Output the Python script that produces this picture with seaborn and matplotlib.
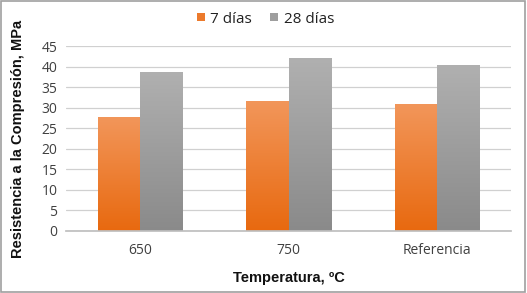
import numpy as np
import pandas as pd
import matplotlib
matplotlib.use("Agg")
import matplotlib.pyplot as plt
import seaborn as sns
from matplotlib.colors import LinearSegmentedColormap
from matplotlib.patches import Rectangle
from matplotlib.lines import Line2D

categories = ["650", "750", "Referencia"]
series_names = ["7 días", "28 días"]
values_7 = [27.7, 31.5, 30.8]
values_28 = [38.7, 42.1, 40.3]
yticks = [0, 5, 10, 15, 20, 25, 30, 35, 40, 45]

df = pd.DataFrame({
    "Temperatura": categories * 2,
    "Serie": [series_names[0]] * 3 + [series_names[1]] * 3,
    "Valor": values_7 + values_28,
})

sns.set_theme(style="white")
plt.rcParams["font.family"] = ["Open Sans", "DejaVu Sans"]

fig = plt.figure(figsize=(5.27, 2.93), dpi=100)
ax = fig.add_axes([0.125, 0.212, 0.845, 0.631])

base_colors = {"7 días": "#EC7A2C", "28 días": "#9E9E9E"}
sns.barplot(data=df, x="Temperatura", y="Valor", hue="Serie", order=categories,
            hue_order=series_names, palette=base_colors, width=0.57,
            saturation=1, ax=ax, legend=False, linewidth=0)

ax.set_ylim(0, 45)
ax.set_yticks(yticks)
ax.grid(axis="y", color="#D0D0D0", linewidth=0.9)
ax.set_axisbelow(True)
for s in ["top", "right", "left"]:
    ax.spines[s].set_visible(False)
ax.spines["bottom"].set_color("#BFBFBF")
ax.tick_params(axis="both", length=0, labelsize=10, colors="#404040", pad=6)
ax.tick_params(axis="x", pad=9)

# gradient overlays
cmaps = {
    "7 días": LinearSegmentedColormap.from_list("o", ["#E8690F", "#F2965A"]),
    "28 días": LinearSegmentedColormap.from_list("g", ["#8A8A8A", "#B0B0B0"]),
}
grad = np.linspace(0, 1, 256).reshape(-1, 1)
n = len(categories)
for i, p in enumerate(ax.patches[:2 * n]):
    name = series_names[i // n]
    x0, y0 = p.get_x(), p.get_y()
    w, h = p.get_width(), p.get_height()
    im = ax.imshow(grad, cmap=cmaps[name], aspect="auto", origin="lower",
                   extent=[x0, x0 + w, y0, y0 + h], zorder=p.get_zorder() + 0.1)
    im.set_clip_path(p)
ax.set_xlim(-0.5, 2.5)
ax.set_ylim(0, 45)

ax.set_xlabel("Temperatura, ºC", fontsize=10.5, fontweight="bold",
              family=["Liberation Sans", "DejaVu Sans"], labelpad=9, color="#111111")
ax.set_ylabel("Resistencia a la Compresión, MPa", fontsize=10.5, fontweight="bold",
              family=["Liberation Sans", "DejaVu Sans"], labelpad=12, color="#111111")

handles = [Line2D([], [], marker="s", linestyle="", markersize=6,
                  markerfacecolor=base_colors[s], markeredgewidth=0) for s in series_names]
fig.legend(handles, series_names, loc="center", bbox_to_anchor=(0.5, 0.935),
           ncol=2, frameon=False, fontsize=11, handletextpad=0.1,
           columnspacing=1.0, handlelength=1.0, labelcolor="#222222")

fig.patches.append(Rectangle((0.002, 0.003), 0.995, 0.994, transform=fig.transFigure,
                             fill=False, edgecolor="#A0A0A0", linewidth=1.2))

fig.savefig("out.png", dpi=100)
